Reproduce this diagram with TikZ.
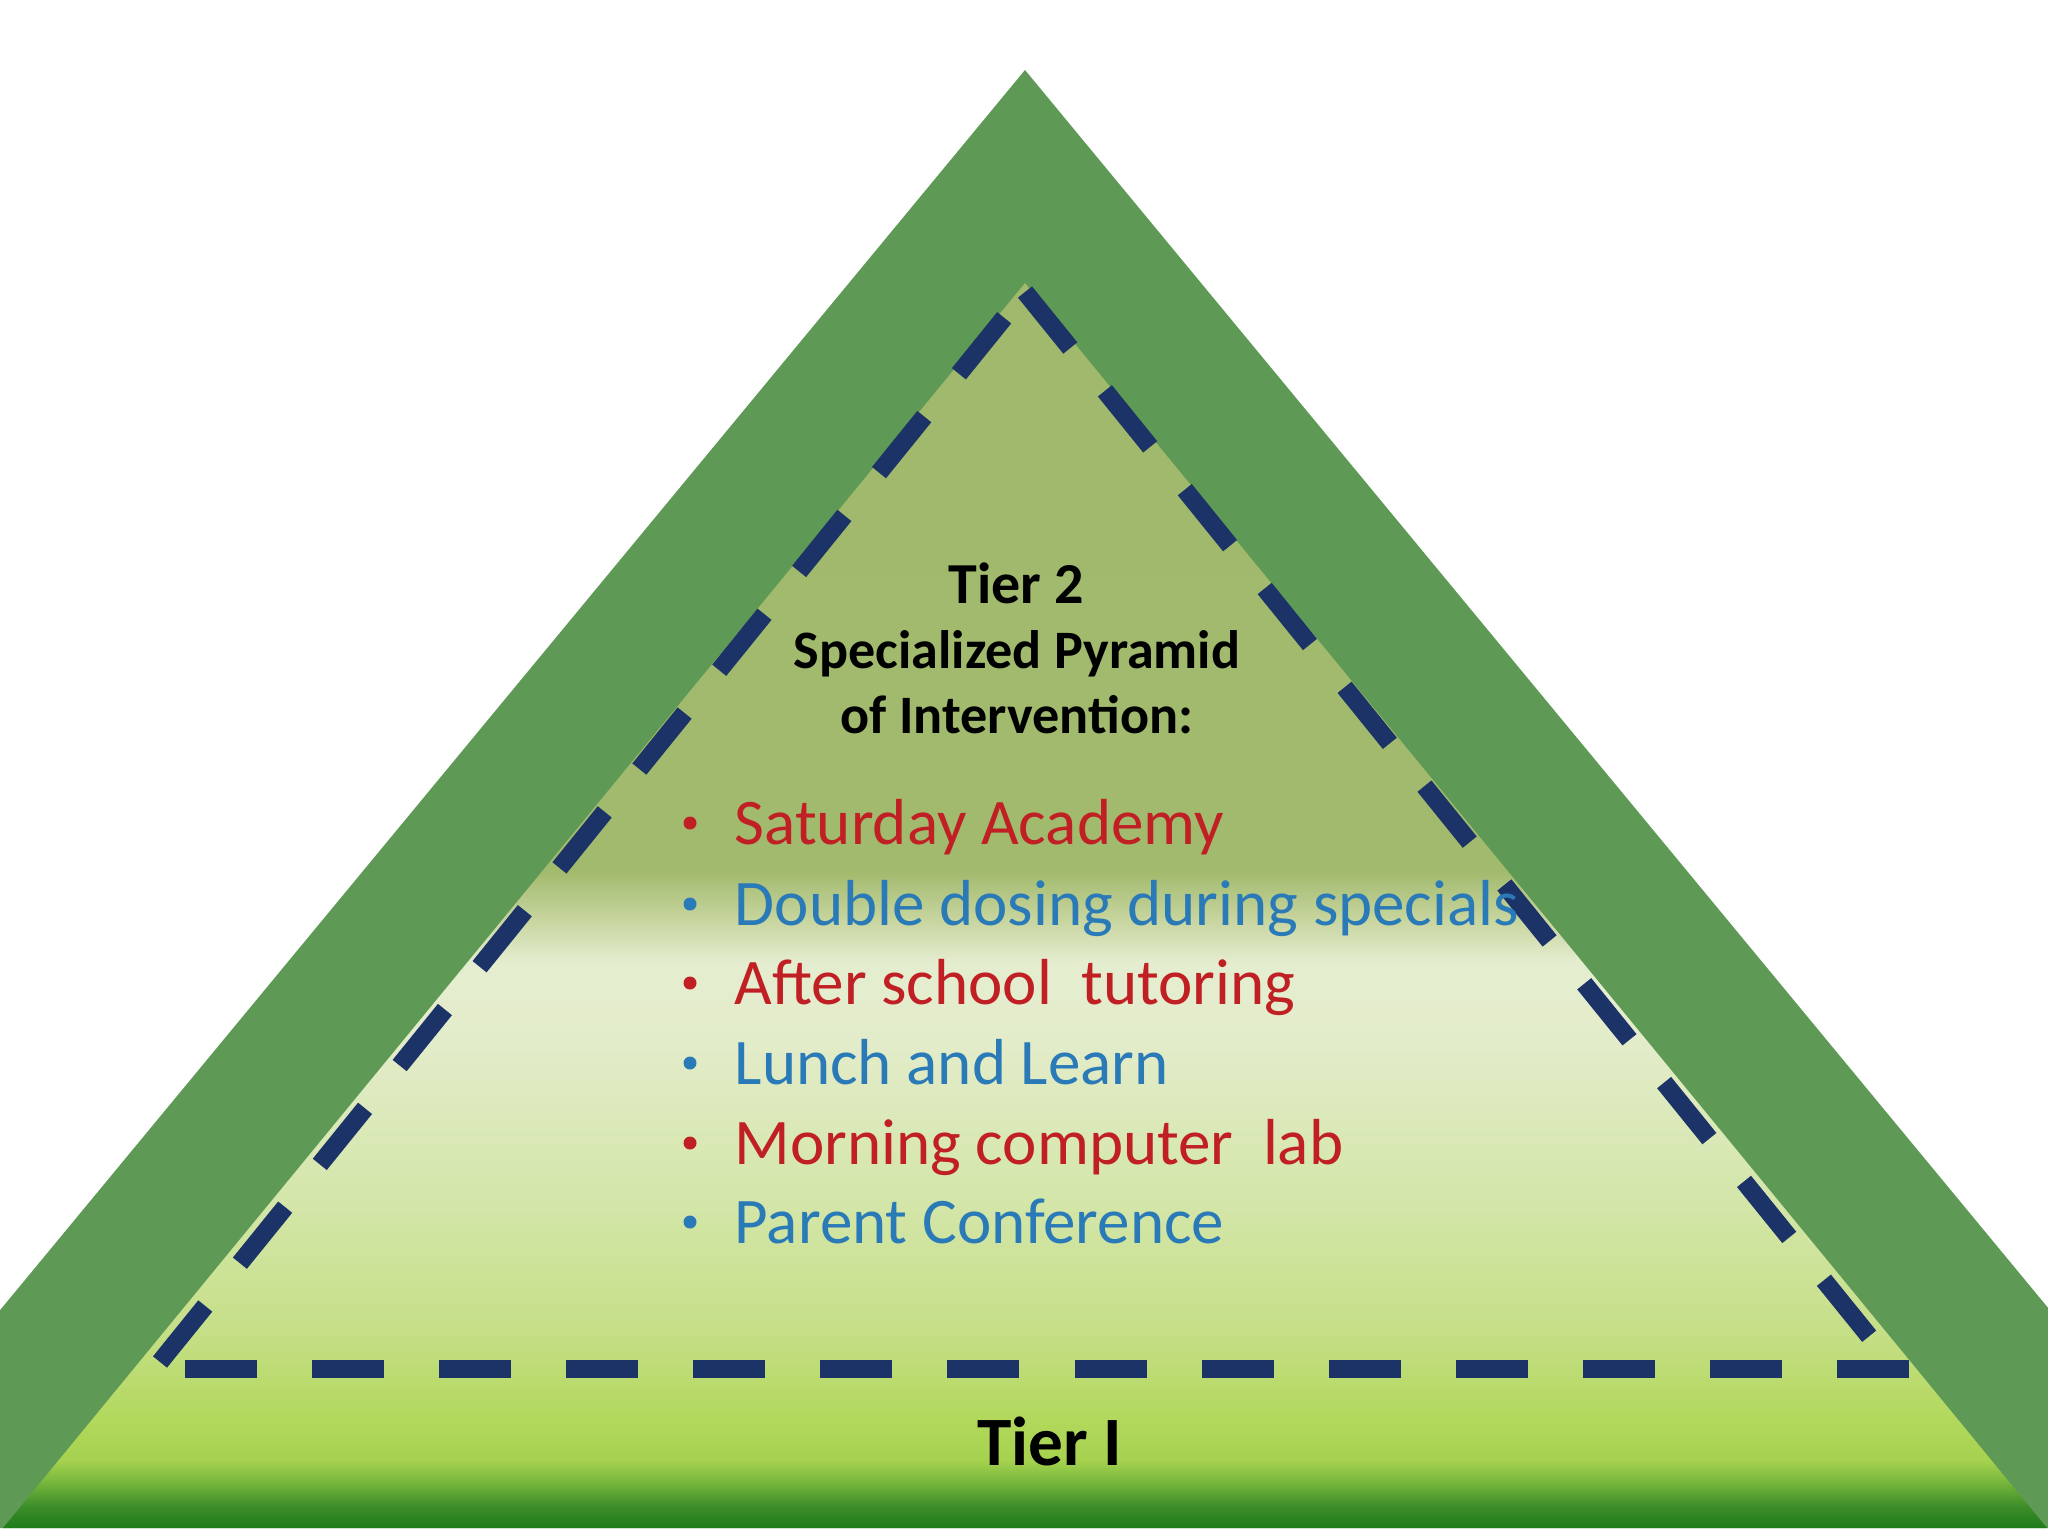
\documentclass[tikz,border=0pt]{standalone}
\usepackage{fontspec}
\setmainfont{Carlito}
\definecolor{band}{RGB}{94,154,85}
\definecolor{navy}{RGB}{28,51,104}
\definecolor{itemred}{RGB}{192,32,36}
\definecolor{itemblue}{RGB}{42,122,184}
\definecolor{g0}{HTML}{1E7A1A}
\definecolor{g1}{HTML}{3F8F2A}
\definecolor{g2}{HTML}{7CBA3E}
\definecolor{g3}{HTML}{A6D24F}
\definecolor{g4}{HTML}{B2D85C}
\definecolor{g5}{HTML}{C6DF88}
\definecolor{g6}{HTML}{D4E6AA}
\definecolor{g7}{HTML}{E3ECCA}
\definecolor{g8}{HTML}{E5EDD0}
\definecolor{g9}{HTML}{C6D49D}
\definecolor{g10}{HTML}{A2BA6D}
\definecolor{g11}{HTML}{A0B96C}
% s = 25 + 0.04016*(1528 - y)
\pgfdeclareverticalshading{tiershade}{100bp}{color(0bp)=(g0); color(25bp)=(g0); color(25.92bp)=(g1); color(26.93bp)=(g2); color(27.73bp)=(g3); color(29.34bp)=(g4); color(33.0bp)=(g5); color(38.25bp)=(g6); color(44.68bp)=(g7); color(47.7bp)=(g8); color(49.5bp)=(g9); color(51.4bp)=(g10); color(75bp)=(g11); color(100bp)=(g11)}
\tikzset{
  dashline/.style={draw=navy, line width=0.18cm, dash pattern=on 0.72cm off 0.55cm},
  headtext/.style={inner sep=0pt, font=\bfseries, text=black},
  itemtext/.style={inner sep=0pt, anchor=base west, font=\fontsize{18.5pt}{22pt}\selectfont},
  bulletdot/.style={circle, inner sep=0pt, minimum size=0.13cm},
}
\begin{document}
\begin{tikzpicture}[x=0.01cm, y=-0.01cm]
\useasboundingbox (0,0) rectangle (2048,1536);
\fill[white] (0,0) rectangle (2048,1536);
% outer band
\begin{scope}
\clip (0,0) rectangle (2048,1528);
\fill[band] (1025,70) -- (-180,1528) -- (2230,1528) -- cycle;
\end{scope}
% inner light triangle
\shade[shading=tiershade] (1025,283) -- (3,1528) -- (2047,1528) -- cycle;
% dashed triangle
\coordinate (apex) at (1025,292);
\coordinate (bl) at (160,1362);
\coordinate (br) at (1890,1362);
\coordinate (hl) at (185,1369);
\coordinate (hr) at (1910,1369);
\draw[dashline] (bl) -- (apex);
\draw[dashline] (apex) -- (br);
\draw[dashline] (hl) -- (hr);
% heading
\node[headtext, anchor=base, font=\bfseries\fontsize{16.5pt}{20pt}\selectfont] (tier2) at (1016,603) {Tier 2};
\node[headtext, anchor=base, font=\bfseries\fontsize{15.4pt}{18pt}\selectfont] (spec) at (1017,668) {Specialized Pyramid};
\node[headtext, anchor=base, font=\bfseries\fontsize{15.4pt}{18pt}\selectfont] (ofint) at (1017,733) {of Intervention:};
% items
\node[itemtext, text=itemred] (i1) at (734,844) {Saturday Academy};
\node[itemtext, text=itemblue] (i2) at (734,925) {Double dosing during specials};
\node[itemtext, text=itemred] (i3) at (734,1004) {After school\ \ tutoring};
\node[itemtext, text=itemblue] (i4) at (734,1084) {Lunch and Learn};
\node[itemtext, text=itemred] (i5) at (734,1164) {Morning computer\ \ lab};
\node[itemtext, text=itemblue] (i6) at (734,1243) {Parent Conference};
\node[bulletdot, fill=itemred] (b1) at (690,823) {};
\node[bulletdot, fill=itemblue] (b2) at (690,904) {};
\node[bulletdot, fill=itemred] (b3) at (690,983) {};
\node[bulletdot, fill=itemblue] (b4) at (690,1063) {};
\node[bulletdot, fill=itemred] (b5) at (690,1143) {};
\node[bulletdot, fill=itemblue] (b6) at (690,1222) {};
% tier I
\node[headtext, anchor=base, font=\bfseries\fontsize{19.7pt}{24pt}\selectfont] (tier1) at (1050,1465) {Tier I};
\end{tikzpicture}
\end{document}
